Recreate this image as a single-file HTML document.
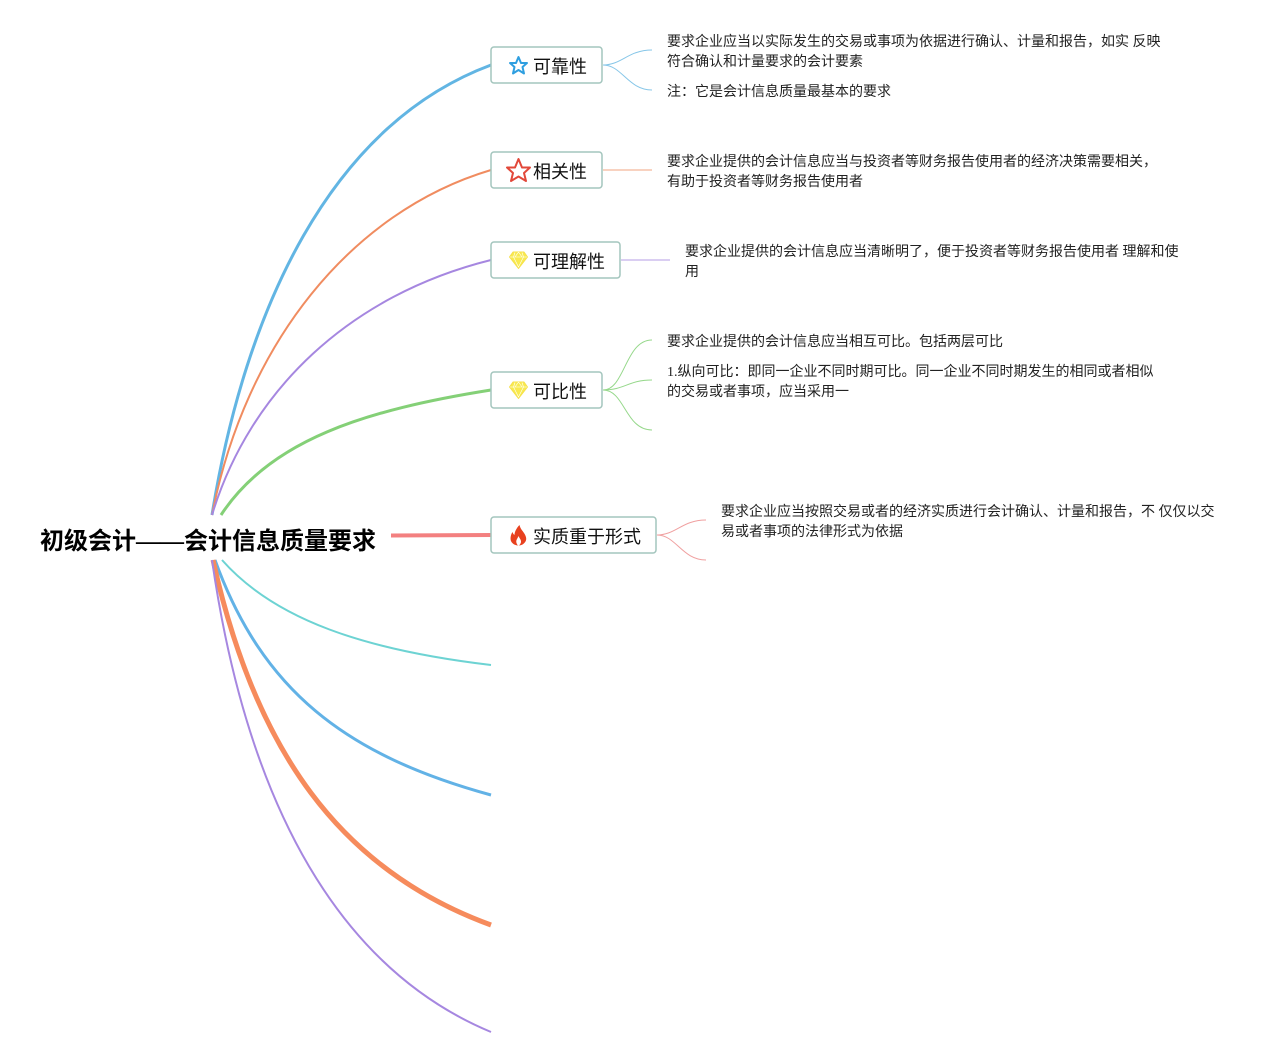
<!DOCTYPE html>
<html lang="zh">
<head>
<meta charset="utf-8">
<style>
html,body{margin:0;padding:0;background:#fff}
body{position:relative;width:1281px;height:1058px;overflow:hidden;font-family:"Liberation Serif","Noto Sans CJK SC",sans-serif;color:#111}
svg{position:absolute;left:0;top:0}
.t{position:absolute;font-size:14px;line-height:20px;height:20px;white-space:nowrap;color:#222}
.l{position:absolute;font-size:18px;line-height:26px;height:26px;white-space:nowrap;color:#111}
.r{position:absolute;left:40px;top:525px;font-size:24px;line-height:34px;font-weight:bold;white-space:nowrap;color:#000;font-family:"Liberation Serif","Noto Sans CJK SC",sans-serif}
</style>
</head>
<body>
<svg width="1281" height="1058" viewBox="0 0 1281 1058" fill="none" stroke-linecap="butt">
<path d="M212 515C245 310 330 125 491 65" stroke="#62b5e3" stroke-width="3"/>
<path d="M212 515C245 345 350 212 491 170" stroke="#f08c60" stroke-width="2"/>
<path d="M212 515C250 390 350 295 491 260" stroke="#a687e0" stroke-width="2"/>
<path d="M221 515C270 440 365 410 491 390" stroke="#84d077" stroke-width="3"/>
<path d="M391 535.500L491 535" stroke="#f38080" stroke-width="4"/>
<path d="M222 560C275 620 365 650 491 665" stroke="#6dd3d3" stroke-width="2"/>
<path d="M215 560C262 690 345 755 491 795" stroke="#62b2e6" stroke-width="3"/>
<path d="M213 560C255 750 340 870 491 925" stroke="#f68b5c" stroke-width="5"/>
<path d="M212 560C248 810 342 970 491 1032" stroke="#a687e0" stroke-width="2"/>
<path d="M603 65C622 65 628 50 652 50M603 65C622 65 628 90 652 90" stroke="#86c6e8" stroke-width="1"/>
<path d="M603 170H652" stroke="#f6c3ab" stroke-width="1.500"/>
<path d="M621 260H670" stroke="#cdbeee" stroke-width="1.500"/>
<path d="M603 390C625 390 625 340 652 340M603 390C625 390 628 380 652 380M603 390C625 390 625 430 652 430" stroke="#96d88b" stroke-width="1"/>
<path d="M657 535C676 535 682 520 706 520M657 535C676 535 682 560 706 560" stroke="#f0a0a0" stroke-width="1"/>
<g fill="#fff" stroke="#a3c5bd" stroke-width="1.500">
<rect x="491" y="47" width="111" height="36" rx="3"/>
<rect x="491" y="152" width="111" height="36" rx="3"/>
<rect x="491" y="242" width="129" height="36" rx="3"/>
<rect x="491" y="372" width="111" height="36" rx="3"/>
<rect x="491" y="517" width="165" height="36" rx="3"/>
</g>
<path d="M518.500 57L521 63H527L522.500 67L524 73.500L518.500 70L513 73.500L514.500 67L510 63H516Z" stroke="#2f9fe0" stroke-width="2" stroke-linejoin="round"/>
<path d="M518.500 159L522 167.500H530L524 173L526 181L518.500 176.500L511 181L513 173L507 167.500H515Z" stroke="#e2483a" stroke-width="2" stroke-linejoin="round"/>
<path d="M513 252H524L527.500 257L518.500 268.500L509.500 257Z" fill="#f9ea50" stroke="#f5e04a" stroke-width="1" stroke-linejoin="round"/>
<path d="M510 257H527M515 252.500L513.500 257L518.500 267L523.500 257L522 252.500M518.500 252L515 257M518.500 252L522 257" stroke="#fff" stroke-width="0.600"/>
<g transform="translate(0 130)">
<path d="M513 252H524L527.500 257L518.500 268.500L509.500 257Z" fill="#f9ea50" stroke="#f5e04a" stroke-width="1" stroke-linejoin="round"/>
<path d="M510 257H527M515 252.500L513.500 257L518.500 267L523.500 257L522 252.500M518.500 252L515 257M518.500 252L522 257" stroke="#fff" stroke-width="0.600"/>
</g>
<path d="M519.500 525C520.500 529 522 530 524 533C526 536 527 539 525.500 541.500C524 544 521.500 545.500 518.500 545.500C515.500 545.500 512.500 544 511.200 541.500C510 539 510.500 535 512.500 532C513 533.500 513.500 534.500 514.500 535C514.500 532 516.500 528 519.500 525ZM518.500 536C517.500 538.500 516 540 516.300 542C516.500 543.500 517.500 545.500 518.500 545.500C519.500 545.500 520.800 543.500 521 542C521.200 539.500 519.500 538.500 518.500 536Z" fill="#e8411f" fill-rule="evenodd"/>
</svg>

<div class="r">初级会计——会计信息质量要求</div>

<div class="l" style="left:533px;top:54px">可靠性</div>
<div class="l" style="left:533px;top:159px">相关性</div>
<div class="l" style="left:533px;top:249px">可理解性</div>
<div class="l" style="left:533px;top:379px">可比性</div>
<div class="l" style="left:533px;top:524px">实质重于形式</div>

<div class="t" style="left:667px;top:33px">要求企业应当以实际发生的交易或事项为依据进行确认、计量和报告，如实 反映</div>
<div class="t" style="left:667px;top:53px">符合确认和计量要求的会计要素</div>
<div class="t" style="left:667px;top:83px">注：它是会计信息质量最基本的要求</div>
<div class="t" style="left:667px;top:153px">要求企业提供的会计信息应当与投资者等财务报告使用者的经济决策需要相关，</div>
<div class="t" style="left:667px;top:173px">有助于投资者等财务报告使用者</div>
<div class="t" style="left:685px;top:243px">要求企业提供的会计信息应当清晰明了，便于投资者等财务报告使用者 理解和使</div>
<div class="t" style="left:685px;top:263px">用</div>
<div class="t" style="left:667px;top:333px">要求企业提供的会计信息应当相互可比。包括两层可比</div>
<div class="t" style="left:667px;top:363px">1.纵向可比：即同一企业不同时期可比。同一企业不同时期发生的相同或者相似</div>
<div class="t" style="left:667px;top:383px">的交易或者事项，应当采用一</div>
<div class="t" style="left:721px;top:503px">要求企业应当按照交易或者的经济实质进行会计确认、计量和报告，不 仅仅以交</div>
<div class="t" style="left:721px;top:523px">易或者事项的法律形式为依据</div>
</body>
</html>
